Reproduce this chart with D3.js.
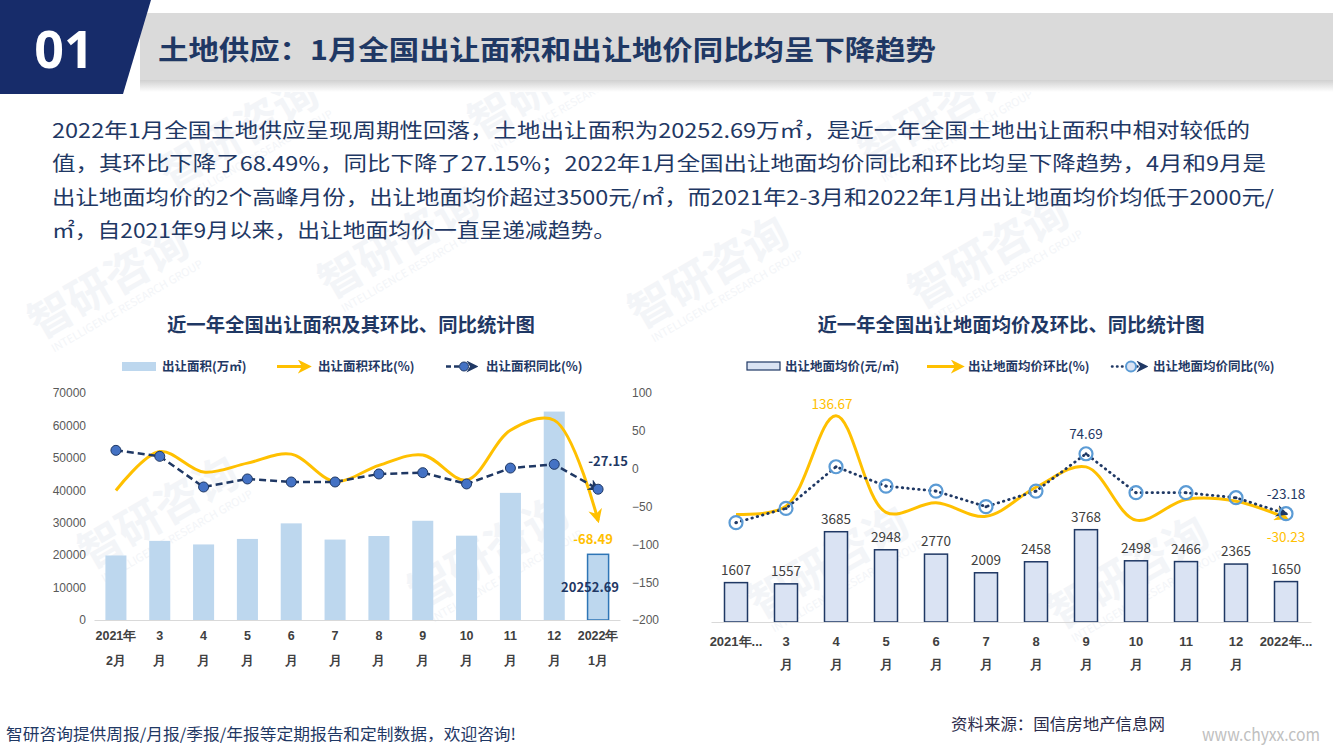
<!DOCTYPE html>
<html>
<head>
<meta charset="utf-8">
<script src="https://cdn.jsdelivr.net/npm/d3@7"></script>
<style>
  body { margin: 0; background: #fff; }
  svg { display: block; font-family: "Noto Sans CJK SC", "Noto Sans", sans-serif; }
</style>
</head>
<body>
<div id="graf"></div>
<script>
// I. Datos
meses = ['2021年2月', '3月', '4月', '5月', '6月', '7月', '8月', '9月', '10月', '11月', '12月', '2022年1月']
etiquetaIzq1 = ['2021年', '3', '4', '5', '6', '7', '8', '9', '10', '11', '12', '2022年']
etiquetaIzq2 = ['2月', '月', '月', '月', '月', '月', '月', '月', '月', '月', '月', '1月']
etiquetaDer1 = ['2021年...', '3', '4', '5', '6', '7', '8', '9', '10', '11', '12', '2022年...']
etiquetaDer2 = ['', '月', '月', '月', '月', '月', '月', '月', '月', '月', '月', '']

area = [19900, 24400, 23300, 25000, 29800, 24800, 25900, 30600, 26000, 39200, 64274, 20252.69]
areaHuanbi = [-28.8, 22.6, -4.5, 7.3, 19.2, -16.8, 4.4, 18.1, -15.0, 50.8, 64.0, -68.49]
areaTongbi = [24.2, 16.3, -24.2, -13.6, -17.6, -17.6, -7.0, -5.3, -20.2, 0.8, 5.7, -27.15]

precio = [1607, 1557, 3685, 2948, 2770, 2009, 2458, 3768, 2498, 2466, 2365, 1650]
precioHuanbi = [-24.3, -10.8, 136.67, -21.0, -5.5, -27.5, 20.0, 53.3, -33.7, 0.0, -3.0, -30.23]
precioTongbi = [-37.8, -14.5, 53.5, 21.9, 13.7, -11.7, 13.7, 74.69, 11.1, 11.1, 2.9, -23.18]

ticksIzq = [0, 10000, 20000, 30000, 40000, 50000, 60000, 70000]
ticksDer = [100, 50, 0, -50, -100, -150, -200]

parrafo = [
  '2022年1月全国土地供应呈现周期性回落，土地出让面积为20252.69万㎡，是近一年全国土地出让面积中相对较低的',
  '值，其环比下降了68.49%，同比下降了27.15%；2022年1月全国出让地面均价同比和环比均呈下降趋势，4月和9月是',
  '出让地面均价的2个高峰月份，出让地面均价超过3500元/㎡，而2021年2-3月和2022年1月出让地面均价均低于2000元/',
  '㎡，自2021年9月以来，出让地面均价一直呈递减趋势。'
]

// II. Configuración
navy = '#1f3864'
amarillo = '#ffc000'
gris = '#595959'

svg = d3.select('#graf').append('svg')
        .attr('width', 1333)
        .attr('height', 750)

defs = svg.append('defs')
grad = defs.append('linearGradient').attr('id', 'sombra')
           .attr('x1', 0).attr('y1', 0).attr('x2', 0).attr('y2', 1)
grad.append('stop').attr('offset', '0%').attr('stop-color', '#d0d0d0')
grad.append('stop').attr('offset', '100%').attr('stop-color', '#ffffff')

function flecha(id, color, tam) {
  defs.append('marker')
      .attr('id', id)
      .attr('viewBox', '0 0 10 10')
      .attr('refX', 8).attr('refY', 5)
      .attr('markerUnits', 'userSpaceOnUse')
      .attr('markerWidth', tam).attr('markerHeight', tam)
      .attr('orient', 'auto')
    .append('path')
      .attr('d', 'M0,0 L10,5 L0,10 L3,5 Z')
      .attr('fill', color)
}
flecha('flechaAm', amarillo, 14)
flecha('flechaNavy', navy, 12)

// a. Marcas de agua (muy tenues)
marcas = [[40, 340], [330, 300], [640, 330], [920, 310], [90, 570], [420, 610], [760, 620], [1060, 630], [480, 140], [870, 170], [170, 190]]
marcas.forEach(p => {
  wm = svg.append('g').attr('transform', `translate(${p[0]}, ${p[1]}) rotate(-30)`)
  wm.append('text').text('智研咨询')
    .attr('font-size', 44).attr('font-weight', 'bold')
    .attr('fill', '#f3f5f8')
  wm.append('text').text('INTELLIGENCE RESEARCH GROUP')
    .attr('y', 18).attr('x', 6)
    .attr('font-size', 11)
    .attr('fill', '#f3f5f8')
})

// b. Encabezado
svg.append('rect').attr('x', 140).attr('y', 80).attr('width', 1193).attr('height', 12)
   .attr('fill', 'url(#sombra)')
svg.append('rect').attr('x', 140).attr('y', 13).attr('width', 1193).attr('height', 67)
   .attr('fill', '#dadada')
svg.append('polygon').attr('points', '0,0 151,0 123,94 0,94').attr('fill', '#172c6a')
svg.append('text').text('01')
   .attr('x', 64).attr('y', 68)
   .attr('text-anchor', 'middle')
   .attr('font-size', 52).attr('font-weight', 'bold')
   .attr('font-family', '"Noto Sans", sans-serif')
   .attr('fill', '#fff')
svg.append('text').text('土地供应：1月全国出让面积和出让地价同比均呈下降趋势')
   .attr('x', 158).attr('y', 60)
   .attr('font-size', 27).attr('font-weight', 'bold')
   .attr('textLength', 778).attr('lengthAdjust', 'spacingAndGlyphs')
   .attr('fill', navy)

// c. Párrafo
anchos = [1198, 1214, 1222, 564]
parrafo.forEach((t, i) => {
  svg.append('text').text(t)
     .attr('x', 52).attr('y', 138 + i * 33.3)
     .attr('font-size', 20)
     .attr('textLength', anchos[i]).attr('lengthAdjust', 'spacingAndGlyphs')
     .attr('fill', navy)
})

// d. Pie
svg.append('text').text('智研咨询提供周报/月报/季报/年报等定期报告和定制数据，欢迎咨询!')
   .attr('x', 6).attr('y', 740).attr('font-size', 16)
   .attr('textLength', 510).attr('lengthAdjust', 'spacingAndGlyphs')
   .attr('fill', navy)
svg.append('text').text('资料来源：国信房地产信息网')
   .attr('x', 951).attr('y', 730).attr('font-size', 16)
   .attr('textLength', 214).attr('lengthAdjust', 'spacingAndGlyphs')
   .attr('fill', '#2b2b4a')
svg.append('text').text('www.chyxx.com')
   .attr('x', 1202).attr('y', 741).attr('font-size', 17)
   .attr('textLength', 118).attr('lengthAdjust', 'spacingAndGlyphs')
   .attr('fill', '#c0c0c0')

// III. Gráfica izquierda: superficie
x1 = d3.scaleBand().domain(meses).range([94, 620]).paddingInner(0.52).paddingOuter(0.26)
y1 = d3.scaleLinear().domain([0, 70000]).range([620, 393])
y1b = d3.scaleLinear().domain([-200, 100]).range([620, 393])
cx1 = d => x1(d) + x1.bandwidth() / 2

g1 = svg.append('g')

g1.append('text').text('近一年全国出让面积及其环比、同比统计图')
  .attr('x', 351).attr('y', 332)
  .attr('text-anchor', 'middle')
  .attr('font-size', 19).attr('font-weight', 'bold')
  .attr('textLength', 368).attr('lengthAdjust', 'spacingAndGlyphs')
  .attr('fill', navy)

// leyenda
leg1 = g1.append('g').attr('font-size', 12.5).attr('font-weight', 'bold').attr('fill', navy)
leg1.append('rect').attr('x', 122).attr('y', 362).attr('width', 34).attr('height', 9).attr('fill', '#bdd7ee')
leg1.append('text').text('出让面积(万㎡)').attr('x', 162).attr('y', 371)
leg1.append('line').attr('x1', 277).attr('x2', 309).attr('y1', 366.5).attr('y2', 366.5)
    .attr('stroke', amarillo).attr('stroke-width', 3).attr('marker-end', 'url(#flechaAm)')
leg1.append('text').text('出让面积环比(%)').attr('x', 318).attr('y', 371)
leg1.append('line').attr('x1', 446).attr('x2', 476).attr('y1', 366.5).attr('y2', 366.5)
    .attr('stroke', navy).attr('stroke-width', 2.5).attr('stroke-dasharray', '5,3')
    .attr('marker-end', 'url(#flechaNavy)')
leg1.append('circle').attr('cx', 464).attr('cy', 366.5).attr('r', 4.5)
    .attr('fill', '#4472c4').attr('stroke', navy)
leg1.append('text').text('出让面积同比(%)').attr('x', 486).attr('y', 371)

// ejes
ejeY1 = g1.append('g').attr('transform', 'translate(86, 0)')
          .call(d3.axisLeft(y1).tickValues(ticksIzq).tickFormat(d3.format('d')).tickSize(0).tickPadding(0))
ejeY1.select('.domain').remove()
ejeY1.selectAll('text').attr('font-size', 12).attr('font-family', null).attr('fill', gris)

ejeY1b = g1.append('g').attr('transform', 'translate(628, 0)')
           .call(d3.axisRight(y1b).tickValues(ticksDer).tickSize(0).tickPadding(4))
ejeY1b.select('.domain').remove()
ejeY1b.selectAll('text').attr('font-size', 12).attr('font-family', null).attr('fill', gris)

// barras
g1.selectAll('rect.barra')
  .data(area)
  .enter()
  .append('rect')
    .attr('class', 'barra')
    .attr('x', (d, i) => x1(meses[i]))
    .attr('y', d => y1(d))
    .attr('width', x1.bandwidth())
    .attr('height', d => y1(0) - y1(d))
    .attr('fill', '#bdd7ee')
    .attr('stroke', (d, i) => i === area.length - 1 ? '#2e75b6' : 'none')
    .attr('stroke-width', 1.5)

ejeX1 = g1.append('g').attr('transform', 'translate(0, 620)')
          .call(d3.axisBottom(x1).tickSize(0).tickFormat(''))
ejeX1.select('.domain').attr('stroke', '#d9d9d9').attr('stroke-width', 1.2)
ejeX1.selectAll('.tick text').remove()
ejeX1.selectAll('.tick').each(function(d, i) {
  t = d3.select(this).append('text')
        .attr('text-anchor', 'middle')
        .attr('font-size', 12.5).attr('font-weight', 'bold')
        .attr('font-family', null)
        .attr('fill', '#404040')
  t.append('tspan').attr('x', 0).attr('y', 20).text(etiquetaIzq1[i])
  t.append('tspan').attr('x', 0).attr('y', 45).text(etiquetaIzq2[i])
})

// líneas
suave = d3.line()
          .x((d, i) => cx1(meses[i]))
          .y(d => y1b(d))
          .curve(d3.curveCatmullRom.alpha(0.5))

g1.append('path')
  .attr('d', suave(areaHuanbi))
  .attr('fill', 'none')
  .attr('stroke', amarillo).attr('stroke-width', 3)
  .attr('marker-end', 'url(#flechaAm)')

recta = d3.line()
          .x((d, i) => cx1(meses[i]))
          .y(d => y1b(d))
g1.append('path')
  .attr('d', recta(areaTongbi))
  .attr('fill', 'none')
  .attr('stroke', navy).attr('stroke-width', 2.5)
  .attr('stroke-dasharray', '7,4')
  .attr('marker-end', 'url(#flechaNavy)')

g1.selectAll('circle.tb')
  .data(areaTongbi)
  .enter()
  .append('circle')
    .attr('class', 'tb')
    .attr('cx', (d, i) => cx1(meses[i]))
    .attr('cy', d => y1b(d))
    .attr('r', 5)
    .attr('fill', '#4472c4')
    .attr('stroke', navy).attr('stroke-width', 1)

ultimo = meses.length - 1
g1.append('text').text(areaTongbi[ultimo].toFixed(2))
  .attr('x', cx1(meses[ultimo]) + 10).attr('y', y1b(areaTongbi[ultimo]) - 23)
  .attr('text-anchor', 'middle')
  .attr('font-size', 13).attr('font-weight', 'bold').attr('fill', navy)
g1.append('text').text(areaHuanbi[ultimo].toFixed(2))
  .attr('x', cx1(meses[ultimo]) - 5).attr('y', y1b(areaHuanbi[ultimo]) + 24)
  .attr('text-anchor', 'middle')
  .attr('font-size', 13).attr('font-weight', 'bold').attr('fill', amarillo)
g1.append('text').text(area[ultimo].toFixed(2))
  .attr('x', cx1(meses[ultimo]) - 8).attr('y', y1(area[ultimo]) + 38)
  .attr('text-anchor', 'middle')
  .attr('font-size', 13).attr('font-weight', 'bold').attr('fill', navy)

// IV. Gráfica derecha: precio medio
x2 = d3.scaleBand().domain(meses).range([711, 1311]).paddingInner(0.54).paddingOuter(0.27)
y2 = d3.scaleLinear().domain([0, 10000]).range([622, 377])
y2b = d3.scaleLinear().domain([-200, 200]).range([622, 377])
cx2 = d => x2(d) + x2.bandwidth() / 2

g2 = svg.append('g')

g2.append('text').text('近一年全国出让地面均价及环比、同比统计图')
  .attr('x', 1011).attr('y', 332)
  .attr('text-anchor', 'middle')
  .attr('font-size', 19).attr('font-weight', 'bold')
  .attr('textLength', 387).attr('lengthAdjust', 'spacingAndGlyphs')
  .attr('fill', navy)

leg2 = g2.append('g').attr('font-size', 12.5).attr('font-weight', 'bold').attr('fill', navy)
leg2.append('rect').attr('x', 747).attr('y', 362).attr('width', 33).attr('height', 8)
    .attr('fill', '#dae3f3').attr('stroke', navy).attr('stroke-width', 1.2)
leg2.append('text').text('出让地面均价(元/㎡)').attr('x', 785).attr('y', 371)
leg2.append('line').attr('x1', 927).attr('x2', 962).attr('y1', 366.5).attr('y2', 366.5)
    .attr('stroke', amarillo).attr('stroke-width', 3).attr('marker-end', 'url(#flechaAm)')
leg2.append('text').text('出让地面均价环比(%)').attr('x', 968).attr('y', 371)
leg2.append('line').attr('x1', 1112).attr('x2', 1146).attr('y1', 366.5).attr('y2', 366.5)
    .attr('stroke', navy).attr('stroke-width', 2.5)
    .attr('stroke-dasharray', '0.5,4.5').attr('stroke-linecap', 'round')
    .attr('marker-end', 'url(#flechaNavy)')
leg2.append('circle').attr('cx', 1131).attr('cy', 366.5).attr('r', 5)
    .attr('fill', '#dae3f3').attr('stroke', '#5b9bd5').attr('stroke-width', 2)
leg2.append('text').text('出让地面均价同比(%)').attr('x', 1153).attr('y', 371)

g2.selectAll('rect.barra')
  .data(precio)
  .enter()
  .append('rect')
    .attr('class', 'barra')
    .attr('x', (d, i) => x2(meses[i]))
    .attr('y', d => y2(d))
    .attr('width', x2.bandwidth())
    .attr('height', d => y2(0) - y2(d))
    .attr('fill', '#dae3f3')
    .attr('stroke', navy).attr('stroke-width', 1.5)

g2.selectAll('text.valor')
  .data(precio)
  .enter()
  .append('text')
    .attr('class', 'valor')
    .attr('x', (d, i) => cx2(meses[i]))
    .attr('y', d => y2(d) - 8)
    .attr('text-anchor', 'middle')
    .attr('font-size', 13.5)
    .attr('fill', '#404040')
    .text(d => d)

ejeX2 = g2.append('g').attr('transform', 'translate(0, 622)')
          .call(d3.axisBottom(x2).tickSize(0).tickFormat(''))
ejeX2.select('.domain').attr('stroke', '#d9d9d9').attr('stroke-width', 1.2)
ejeX2.selectAll('.tick text').remove()
ejeX2.selectAll('.tick').each(function(d, i) {
  t = d3.select(this).append('text')
        .attr('text-anchor', 'middle')
        .attr('font-size', 13).attr('font-weight', 'bold')
        .attr('font-family', null)
        .attr('fill', '#404040')
  t.append('tspan').attr('x', 0).attr('y', 24).text(etiquetaDer1[i])
  t.append('tspan').attr('x', 0).attr('y', 47).text(etiquetaDer2[i])
})

suave2 = d3.line()
           .x((d, i) => cx2(meses[i]))
           .y(d => y2b(d))
           .curve(d3.curveCatmullRom.alpha(0.5))
g2.append('path')
  .attr('d', suave2(precioHuanbi))
  .attr('fill', 'none')
  .attr('stroke', amarillo).attr('stroke-width', 3)
  .attr('marker-end', 'url(#flechaAm)')

recta2 = d3.line()
           .x((d, i) => cx2(meses[i]))
           .y(d => y2b(d))
g2.append('path')
  .attr('d', recta2(precioTongbi))
  .attr('fill', 'none')
  .attr('stroke', navy).attr('stroke-width', 2.8)
  .attr('stroke-dasharray', '0.5,5').attr('stroke-linecap', 'round')
  .attr('marker-end', 'url(#flechaNavy)')

g2.selectAll('circle.tb')
  .data(precioTongbi)
  .enter()
  .append('circle')
    .attr('class', 'tb')
    .attr('cx', (d, i) => cx2(meses[i]))
    .attr('cy', d => y2b(d))
    .attr('r', 6.5)
    .attr('fill', 'none')
    .attr('stroke', '#5b9bd5').attr('stroke-width', 2.2)
g2.selectAll('circle.centro')
  .data(precioTongbi)
  .enter()
  .append('circle')
    .attr('class', 'centro')
    .attr('cx', (d, i) => cx2(meses[i]))
    .attr('cy', d => y2b(d))
    .attr('r', 1.5)
    .attr('fill', navy)

g2.append('text').text(precioHuanbi[2].toFixed(2))
  .attr('x', cx2(meses[2]) - 4).attr('y', y2b(precioHuanbi[2]) - 7)
  .attr('text-anchor', 'middle')
  .attr('font-size', 13.5).attr('fill', amarillo)
g2.append('text').text(precioTongbi[7].toFixed(2))
  .attr('x', cx2(meses[7])).attr('y', y2b(precioTongbi[7]) - 15)
  .attr('text-anchor', 'middle')
  .attr('font-size', 13.5).attr('fill', navy)
g2.append('text').text(precioTongbi[ultimo].toFixed(2))
  .attr('x', cx2(meses[ultimo])).attr('y', y2b(precioTongbi[ultimo]) - 15)
  .attr('text-anchor', 'middle')
  .attr('font-size', 13.5).attr('fill', navy)
g2.append('text').text(precioHuanbi[ultimo].toFixed(2))
  .attr('x', cx2(meses[ultimo])).attr('y', y2b(precioHuanbi[ultimo]) + 24)
  .attr('text-anchor', 'middle')
  .attr('font-size', 13.5).attr('fill', amarillo)
</script>
</body>
</html>
